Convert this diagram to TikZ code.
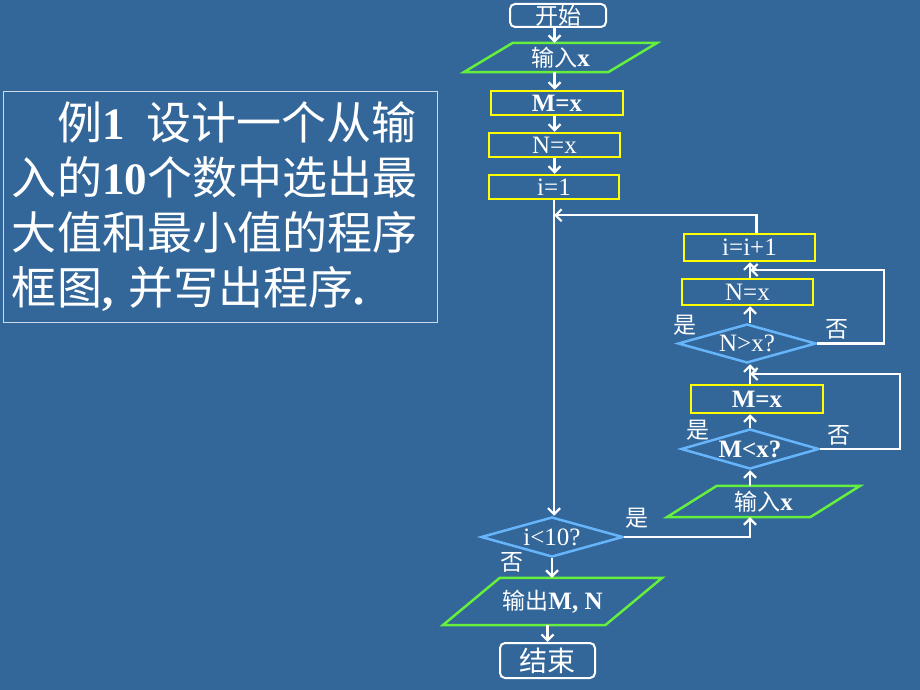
\documentclass[tikz,border=0pt]{standalone}
\usepackage{fontspec}
\setmainfont{Liberation Serif}
\newfontfamily\cjk{Noto Sans CJK SC}
\newfontfamily\cjks[Scale=0.92]{Noto Sans CJK SC}
\usetikzlibrary{shapes.geometric,arrows.meta,calc}
\definecolor{bg}{RGB}{51,102,153}
\definecolor{fyellow}{RGB}{255,255,0}
\definecolor{fgreen}{RGB}{100,240,60}
\definecolor{fblue}{RGB}{102,180,250}
\definecolor{boxline}{RGB}{205,218,235}
\newcommand\zh[1]{{\cjk #1}}
\newcommand\zs[1]{{\cjks #1}}
\newcommand\paraframe[2]{\draw[draw=fgreen, line width=2.5pt, line join=miter]
  ($(#1.south west)+(-#2,0)$) -- ($(#1.south east)+(-#2,0)$) --
  ($(#1.north east)+(#2,0)$) -- ($(#1.north west)+(#2,0)$) -- cycle;}
\begin{document}
\begin{tikzpicture}[x=1pt,y=-1pt,
  every node/.style={text=white, inner sep=0pt, font=\fontsize{25}{28}\selectfont},
  termbox/.style={draw=white, line width=2pt, rounded corners=5pt, rectangle},
  procbox/.style={draw=fyellow, line width=2.5pt, rectangle},
  decide/.style={draw=fblue, line width=2.5pt, diamond, aspect=3.5},
  iobox/.style={rectangle},
  arr/.style={draw=white, line width=2.2pt, -{Straight Barb[length=6pt,width=12pt]}},
  lbl/.style={font=\fontsize{23}{27}\selectfont\cjk}
]
\fill[bg] (0,0) rectangle (920,690);
\useasboundingbox (0,0) rectangle (920,690);

% problem text
\node[draw=boxline, line width=1pt, minimum width=434pt, minimum height=230pt,
  text width=416pt, align=left, inner xsep=9pt,
  font=\fontsize{45}{55}\selectfont] (prob) at (220,207)
  {\hspace*{45pt}\zh{例}\textbf{1}\hspace{22pt}\zh{设计一个从输}\\
   \zh{入的}\textbf{10}\zh{个数中选出最}\\
   \zh{大值和最小值的程序}\\
   \zh{框图}\textbf{,} \zh{并写出程序}\textbf{.}};

% main column
\node[termbox, minimum width=96pt, minimum height=23pt] (start) at (558,15.5) {\zs{开始}};
\node[iobox, minimum width=144pt, minimum height=29pt] (in1) at (560.5,57.5) {\zs{输入}\textbf{x}};
\paraframe{in1}{24.5}
\node[procbox, minimum width=132pt, minimum height=24pt] (m1) at (557,103) {\textbf{M=x}};
\node[procbox, minimum width=131pt, minimum height=24pt] (n1) at (554.5,145) {N=x};
\node[procbox, minimum width=130pt, minimum height=24pt] (init) at (554,187) {i=1};
\node[decide, minimum width=142pt, minimum height=40pt] (cond) at (552,537) {i\textless10?};
\node[iobox, minimum width=162pt, minimum height=47pt] (out) at (552.5,601.5) {\zs{输出}\textbf{M, N}};
\paraframe{out}{28.5}
\node[termbox, minimum width=95pt, minimum height=35pt, font=\fontsize{28}{32}\selectfont] (end) at (547.5,660.5) {\zh{结束}};

% loop body
\node[procbox, minimum width=131pt, minimum height=27pt] (inc) at (749.5,247.5) {i=i+1};
\node[procbox, minimum width=131pt, minimum height=26pt] (n2) at (747.5,292) {N=x};
\node[decide, minimum width=138pt, minimum height=39pt] (d2) at (747,343.5) {N\textgreater x?};
\node[procbox, minimum width=132pt, minimum height=28pt] (m2) at (757,399) {\textbf{M=x}};
\node[decide, minimum width=138pt, minimum height=40pt] (d1) at (750,449) {\textbf{M\textless x?}};
\node[iobox, minimum width=143pt, minimum height=31pt] (in2) at (763.5,501.5) {\zs{输入}\textbf{x}};
\paraframe{in2}{25}

% labels
\node[lbl] (y2) at (685,325) {是};
\node[lbl] (n2l) at (837,329) {否};
\node[lbl] (y1) at (698,430) {是};
\node[lbl] (n1l) at (839,435) {否};
\node[lbl] (y0) at (637,518) {是};
\node[lbl] (n0l) at (512,562) {否};

% connectors main column
\draw[arr] (start.south -| n1) -- (in1.north -| n1);
\draw[arr] (in1.south -| n1) -- (m1.north -| n1);
\draw[arr] (m1.south -| n1) -- (n1.north);
\draw[arr] (n1.south) -- (init.north -| n1);
\draw[arr] (init.south) -- (init.south |- cond.north);
\draw[arr] (cond.south) -- (cond.south |- out.north);
\draw[arr] (end.north |- out.south) -- (end.north);

% loop connectors
\draw[arr] (cond.east) -| (d1.south |- in2.south);
\draw[arr] (in2.north -| d1) -- (d1.south);
\draw[arr] (d1.north) -- (m2.south -| d1);
\draw[arr] (m2.north -| d1) -- (d2.south -| d1);
\draw[arr] (d2.north -| d1) -- (n2.south -| d1);
\draw[arr] (n2.north -| d1) -- (inc.south -| d1);
\draw[arr] (d1.east) -- ++(80,0) |- ($(m2.north -| d1)!0.5!(d2.south -| d1)$);
\draw[arr] (d2.east) -- ++(67,0) |- ($(n2.north -| d1)!0.5!(inc.south -| d1)$);
\draw[arr] ([xshift=7pt]inc.north) |- ($(init.south)+(0,15)$);
\end{tikzpicture}
\end{document}
